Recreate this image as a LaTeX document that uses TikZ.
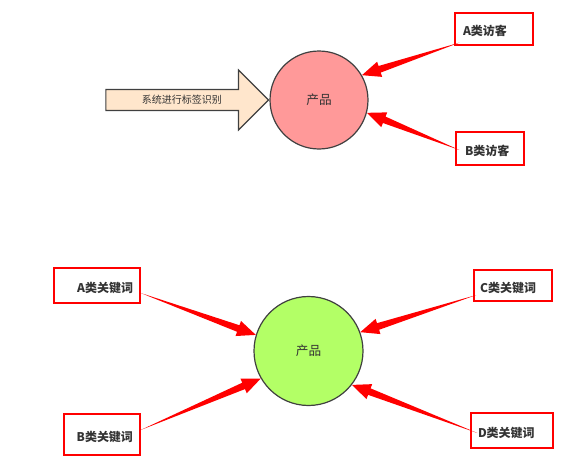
\documentclass[tikz,border=0pt]{standalone}
\usepackage{fontspec}
\usepackage{tikz}
\usetikzlibrary{calc,shapes.arrows}
\newfontfamily\cjk{Noto Sans CJK SC}
\definecolor{EdgeGray}{HTML}{404040}
\definecolor{TextGray}{HTML}{333333}
\definecolor{ProdPink}{HTML}{FF9999}
\definecolor{ProdGreen}{HTML}{B3FF66}
\definecolor{TagPeach}{HTML}{FFE6CC}
% tapered red connector: thin at the source, arrow head at the target
\newcommand{\wedgearrow}[2]{%
  \path (#2) coordinate (wa-tip) ($(#2)!14pt!(#1)$) coordinate (wa-base);
  \fill[red] (#1) -- ($(wa-base)!2.6pt!90:(wa-tip)$) -- ($(wa-base)!6pt!90:(wa-tip)$)
    -- (wa-tip) -- ($(wa-base)!6pt!-90:(wa-tip)$) -- ($(wa-base)!2.6pt!-90:(wa-tip)$) -- cycle;
}

\begin{document}
\begin{tikzpicture}[x=0.75pt,y=-0.75pt,
  every node/.style={font=\cjk\fontsize{9.5pt}{11pt}\selectfont, text=TextGray},
  prod/.style={circle, draw=EdgeGray, line width=0.9pt, inner sep=0pt},
  tagbox/.style={rectangle, draw=red, line width=1pt, inner ysep=0pt,
    text height=10pt, text depth=0pt,
    font=\cjk\bfseries\fontsize{9pt}{11pt}\selectfont}]
  \useasboundingbox (0,0) rectangle (587,464);
  % upper part: visitors
  \node[prod, fill=ProdPink, minimum size=73.5pt] (p1) at (319,100) {产品};
  \node[single arrow, draw=EdgeGray, line width=0.9pt, fill=TagPeach,
    font=\cjk\fontsize{7.5pt}{9pt}\selectfont, minimum height=122pt,
    inner ysep=4pt, single arrow head extend=14.6pt, anchor=tip] (tag) at (p1.west) {系统进行标签识别};
  \node[tagbox, text width=46.5pt, inner xsep=6pt, align=left, minimum height=24pt] (va) at (494,29) {A类访客};
  \node[tagbox, text width=37.5pt, inner xsep=6.75pt, align=left, minimum height=24.75pt] (vb) at (490,148.5) {B类访客};
  \coordinate (va-out) at ($(va.south west)+(5,-3)$);
  \coordinate (vb-out) at ($(vb.west)+(4,1.5)$);
  \wedgearrow{va-out}{p1.30}
  \wedgearrow{vb-out}{p1.-15}
  % lower part: keywords
  \node[prod, fill=ProdGreen, minimum size=81.75pt] (p2) at (308.5,351) {产品};
  \node[tagbox, text width=54pt, inner xsep=5.25pt, align=right, minimum height=26.25pt] (ka) at (97,285.5) {A类关键词};
  \node[tagbox, text width=46.5pt, inner xsep=5.25pt, align=right, minimum height=30.75pt] (kb) at (102,434.5) {B类关键词};
  \node[tagbox, text width=49.5pt, inner xsep=4.5pt, align=left, minimum height=23.25pt] (kc) at (513,285.5) {C类关键词};
  \node[tagbox, text width=51pt, inner xsep=5.25pt, align=left, minimum height=26.25pt] (kd) at (512,430.5) {D类关键词};
  \coordinate (ka-out) at ($(ka.east)+(0,7.5)$);
  \coordinate (kb-out) at ($(kb.east)+(0,-4.5)$);
  \coordinate (kc-out) at ($(kc.west)+(3,9.5)$);
  \coordinate (kd-out) at ($(kd.west)+(7,2.5)$);
  \wedgearrow{ka-out}{p2.163}
  \wedgearrow{kb-out}{p2.210}
  \wedgearrow{kc-out}{p2.20}
  \wedgearrow{kd-out}{p2.-38}
\end{tikzpicture}
\end{document}
